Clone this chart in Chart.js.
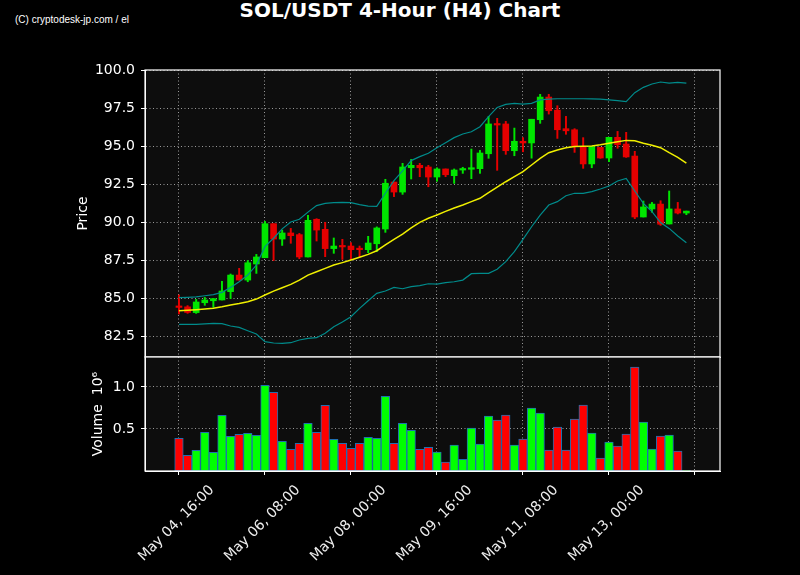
<!DOCTYPE html>
<html>
<head>
<meta charset="utf-8">
<title>SOL/USDT 4-Hour (H4) Chart</title>
<script src="https://cdn.jsdelivr.net/npm/chart.js@4.4.1/dist/chart.umd.min.js"></script>
<style>
  body { margin: 0; background: #000; width: 800px; height: 575px; overflow: hidden; position: relative; font-family: "DejaVu Sans", sans-serif; }
  #title { position: absolute; top: -1px; left: 0; width: 800px; text-align: center; color: #fff; font-weight: bold; font-size: 20px; line-height: 22px; }
  #credit { position: absolute; left: 15px; top: 14px; color: #fff; font-family: "Liberation Sans Narrow", "Liberation Sans", sans-serif; font-size: 10px; line-height: 12px; }
  canvas { position: absolute; left: 0; }
  #priceChart { top: 0; }
  #volumeChart { top: 356px; }
</style>
</head>
<body>
<div id="credit">(C) cryptodesk-jp.com / el</div>
<div id="title">SOL/USDT 4-Hour (H4) Chart</div>
<canvas id="priceChart" width="800" height="360"></canvas>
<canvas id="volumeChart" width="800" height="219"></canvas>
<script>
// 4h candles, first one at May 04 16:00
const opens = [84.47, 84.42, 84.04, 84.69, 84.82, 84.87, 85.42, 86.51, 86.18, 87.24,
  87.65, 89.89, 88.88, 89.28, 89.17, 87.70, 90.18, 89.52, 88.25, 88.42,
  88.42, 88.22, 88.18, 88.57, 89.54, 92.63, 91.97, 93.57, 93.73, 93.62,
  92.96, 93.49, 93.05, 93.42, 93.47, 93.51, 94.49, 96.45, 96.45, 94.69,
  95.31, 95.20, 96.73, 98.22, 97.36, 96.14, 96.07, 94.96, 93.82, 94.91,
  94.21, 95.57, 95.13, 94.34, 90.33, 90.86, 91.18, 89.87, 90.86, 90.59];
const highs = [85.20, 84.50, 84.91, 85.04, 84.96, 86.10, 86.58, 86.95, 87.46, 87.87,
  90.04, 89.89, 89.47, 89.58, 89.25, 90.44, 90.22, 89.98, 88.95, 88.86,
  88.64, 88.42, 89.06, 89.68, 92.81, 92.63, 93.86, 94.12, 93.86, 93.73,
  93.57, 93.49, 93.49, 93.60, 94.80, 94.71, 96.95, 96.82, 96.62, 96.18,
  95.55, 96.76, 98.40, 98.40, 97.65, 96.95, 96.14, 95.55, 94.96, 94.91,
  95.57, 95.96, 95.90, 94.65, 91.38, 91.29, 91.40, 92.04, 91.29, 90.72];
const lows = [83.95, 83.99, 83.99, 84.52, 84.39, 84.87, 84.96, 86.18, 86.07, 86.62,
  87.65, 87.46, 88.46, 88.60, 87.59, 87.70, 88.75, 87.72, 87.94, 87.54,
  87.54, 87.72, 87.98, 88.05, 89.32, 91.67, 91.82, 92.83, 92.98, 92.32,
  92.68, 92.98, 92.54, 93.20, 92.85, 93.20, 94.19, 93.40, 94.45, 94.36,
  94.62, 94.20, 96.49, 97.10, 95.50, 95.77, 94.58, 93.53, 93.57, 94.19,
  93.97, 94.85, 94.25, 90.22, 90.33, 90.64, 89.78, 89.87, 90.53, 90.48];
const closes = [84.38, 84.05, 84.74, 84.87, 84.96, 85.46, 86.51, 86.18, 87.32, 87.70,
  89.89, 88.88, 89.28, 89.10, 87.70, 90.11, 89.47, 88.25, 88.42, 88.36,
  88.18, 88.18, 88.62, 89.61, 92.55, 91.97, 93.62, 93.73, 93.57, 92.96,
  93.49, 93.11, 93.42, 93.51, 93.57, 94.54, 96.45, 96.38, 94.69, 95.31,
  95.20, 96.76, 98.22, 97.32, 96.07, 96.00, 95.00, 93.82, 94.96, 94.21,
  95.57, 95.09, 94.28, 90.33, 90.99, 91.18, 89.85, 90.86, 90.59, 90.72];
// volume in millions
const volumes = [0.389, 0.187, 0.246, 0.460, 0.222, 0.663, 0.413, 0.437, 0.448, 0.425,
  1.020, 0.937, 0.353, 0.258, 0.329, 0.567, 0.460, 0.782, 0.377, 0.329,
  0.270, 0.329, 0.400, 0.389, 0.889, 0.329, 0.567, 0.484, 0.258, 0.282,
  0.226, 0.107, 0.310, 0.139, 0.512, 0.321, 0.655, 0.607, 0.667, 0.310,
  0.381, 0.750, 0.690, 0.250, 0.524, 0.250, 0.619, 0.786, 0.452, 0.155,
  0.345, 0.298, 0.440, 1.238, 0.583, 0.262, 0.417, 0.429, 0.238, 0.005];
// 20-period SMA and Bollinger bands
const sma20 = [84.17, 84.20, 84.23, 84.27, 84.32, 84.42, 84.54, 84.64, 84.76, 84.93,
  85.20, 85.45, 85.68, 85.90, 86.18, 86.51, 86.73, 86.95, 87.17, 87.33,
  87.50, 87.68, 87.87, 88.11, 88.49, 88.86, 89.21, 89.62, 89.98, 90.25,
  90.46, 90.70, 90.92, 91.12, 91.34, 91.56, 91.93, 92.30, 92.65, 92.98,
  93.31, 93.75, 94.19, 94.56, 94.74, 94.88, 94.96, 94.99, 95.00, 95.08,
  95.18, 95.28, 95.37, 95.35, 95.18, 95.05, 94.89, 94.56, 94.25, 93.88];
const upperBand = [85.02, 85.04, 85.07, 85.15, 85.22, 85.37, 85.70, 86.07, 86.51, 87.17,
  88.38, 88.93, 89.55, 90.00, 90.18, 90.65, 91.08, 91.23, 91.27, 91.29,
  91.27, 91.14, 91.05, 91.03, 91.89, 92.72, 93.36, 94.04, 94.30, 94.52,
  94.89, 95.22, 95.55, 95.79, 95.94, 96.27, 96.93, 97.54, 97.74, 97.81,
  97.76, 97.81, 98.03, 98.09, 98.11, 98.11, 98.11, 98.11, 98.10, 98.08,
  98.03, 97.98, 97.92, 98.51, 98.86, 99.08, 99.21, 99.14, 99.19, 99.14];
const lowerBand = [83.27, 83.27, 83.27, 83.30, 83.33, 83.31, 83.16, 83.07, 82.85, 82.63,
  82.13, 82.04, 82.02, 82.06, 82.24, 82.35, 82.39, 82.68, 83.11, 83.42,
  83.77, 84.32, 84.82, 85.31, 85.46, 85.70, 85.61, 85.75, 85.81, 85.94,
  85.92, 86.01, 86.07, 86.18, 86.60, 86.62, 86.62, 86.89, 87.39, 88.05,
  88.86, 89.69, 90.46, 91.12, 91.34, 91.73, 91.89, 91.89, 92.00, 92.17,
  92.37, 92.70, 92.87, 92.04, 91.23, 90.68, 89.96, 89.58, 89.08, 88.64];

const tickPositions = [0, 10, 20, 30, 40, 50, 60];
const tickLabels = ["May 04, 16:00", "May 06, 08:00", "May 08, 00:00", "May 09, 16:00", "May 11, 08:00", "May 13, 00:00", ""];
const priceTicks = [82.5, 85.0, 87.5, 90.0, 92.5, 95.0, 97.5, 100.0];
const volumeTicks = [0.5, 1.0];

const X_MIN = -3.95, X_MAX = 62.91;
const GRID = "#9a9a9a";

Chart.defaults.font.family = "DejaVu Sans";
Chart.defaults.color = "#fff";

const idx = opens.map((_, i) => i);
const isUp = idx.map(i => closes[i] >= opens[i]);
const candleColors = isUp.map(u => (u ? "#00e600" : "#e60000"));
const volumeColors = isUp.map(u => (u ? "#00ff00" : "#ff0000"));

// dark plot background + white frame around each panel
const panelFrame = {
  id: "panelFrame",
  beforeDraw(chart) {
    const { ctx, chartArea: a } = chart;
    ctx.save();
    ctx.fillStyle = "#0d0d0d";
    ctx.fillRect(a.left, a.top, a.width, a.height);
    ctx.restore();
  },
  afterDraw(chart) {
    const { ctx, chartArea: a } = chart;
    ctx.save();
    ctx.strokeStyle = "#fff";
    ctx.lineWidth = 1.2;
    ctx.strokeRect(a.left, a.top, a.width, a.height);
    ctx.restore();
  }
};

function xScale(showLabels) {
  return {
    type: "linear",
    min: X_MIN,
    max: X_MAX,
    offset: false,
    afterBuildTicks: s => { s.ticks = tickPositions.map(v => ({ value: v })); },
    afterFit: s => {
      s.height = showLabels ? 104 : 0;
      s.paddingLeft = 0;
      s.paddingRight = 0;
    },
    ticks: {
      display: showLabels,
      autoSkip: false,
      minRotation: 45,
      maxRotation: 45,
      labelOffset: 33,
      padding: 7,
      color: "#eee",
      font: { size: 14 },
      callback: v => tickLabels[tickPositions.indexOf(v)] ?? ""
    },
    grid: { color: GRID, offset: false, drawTicks: showLabels, tickLength: 4, tickColor: "#fff", tickBorderDash: [] },
    border: { color: "#fff", dash: [1, 2.5] }
  };
}

function fitY(s) {
  s.width = 145;
  s.paddingTop = 0;
  s.paddingBottom = 0;
}

function yGrid() {
  return { color: GRID, tickLength: 4, tickColor: "#fff", tickBorderDash: [] };
}

// Price panel
new Chart(document.getElementById("priceChart"), {
  type: "bar",
  data: {
    datasets: [
      { type: "line", label: "SMA 20", data: idx.map(i => ({ x: i, y: sma20[i] })), borderColor: "#f0f000", borderWidth: 1.5, pointRadius: 0, order: 0 },
      { type: "line", label: "Upper", data: idx.map(i => ({ x: i, y: upperBand[i] })), borderColor: "#008b8b", borderWidth: 1.2, pointRadius: 0, order: 0 },
      { type: "line", label: "Lower", data: idx.map(i => ({ x: i, y: lowerBand[i] })), borderColor: "#008b8b", borderWidth: 1.2, pointRadius: 0, order: 0 },
      { label: "Wick", data: idx.map(i => ({ x: i, y: [lows[i], highs[i]] })), backgroundColor: candleColors, barThickness: 1.3, grouped: false, order: 2 },
      { label: "Body", data: idx.map(i => ({ x: i, y: [Math.min(opens[i], closes[i]), Math.max(opens[i], closes[i])] })), backgroundColor: candleColors, barThickness: 6, minBarLength: 1.5, grouped: false, order: 1 }
    ]
  },
  options: {
    responsive: false,
    animation: false,
    devicePixelRatio: 1,
    layout: { padding: { left: 0, right: 80, top: 70, bottom: 3 } },
    plugins: { legend: { display: false }, tooltip: { enabled: false } },
    scales: {
      x: xScale(false),
      y: {
        min: 81.12,
        max: 100.0,
        afterBuildTicks: s => { s.ticks = priceTicks.map(v => ({ value: v })); },
        afterFit: fitY,
        ticks: { color: "#fff", font: { size: 14 }, padding: 6, callback: v => v.toFixed(1) },
        grid: yGrid(),
        border: { color: "#fff", dash: [1, 2.5] },
        title: { display: true, text: "Price", color: "#fff", font: { size: 14 }, padding: { top: 75, bottom: 0 } }
      }
    }
  },
  plugins: [panelFrame]
});

// Volume panel
new Chart(document.getElementById("volumeChart"), {
  type: "bar",
  data: {
    datasets: [
      { label: "Volume", data: idx.map(i => ({ x: i, y: volumes[i] })), backgroundColor: volumeColors, borderColor: "#1f6fb0", borderWidth: 1, borderSkipped: false, barPercentage: 1, categoryPercentage: 1, grouped: false }
    ]
  },
  options: {
    responsive: false,
    animation: false,
    devicePixelRatio: 1,
    layout: { padding: { left: 0, right: 80, top: 1, bottom: 0 } },
    plugins: { legend: { display: false }, tooltip: { enabled: false } },
    scales: {
      x: xScale(true),
      y: {
        min: 0,
        max: 1.357,
        afterBuildTicks: s => { s.ticks = volumeTicks.map(v => ({ value: v })); },
        afterFit: fitY,
        ticks: { color: "#fff", font: { size: 14 }, padding: 6, callback: v => v.toFixed(1) },
        grid: yGrid(),
        border: { color: "#fff", dash: [1, 2.5] },
        title: { display: true, text: "Volume  10⁶", color: "#fff", font: { size: 14 }, padding: { top: 90, bottom: 0 } }
      }
    }
  },
  plugins: [panelFrame]
});
</script>
</body>
</html>
